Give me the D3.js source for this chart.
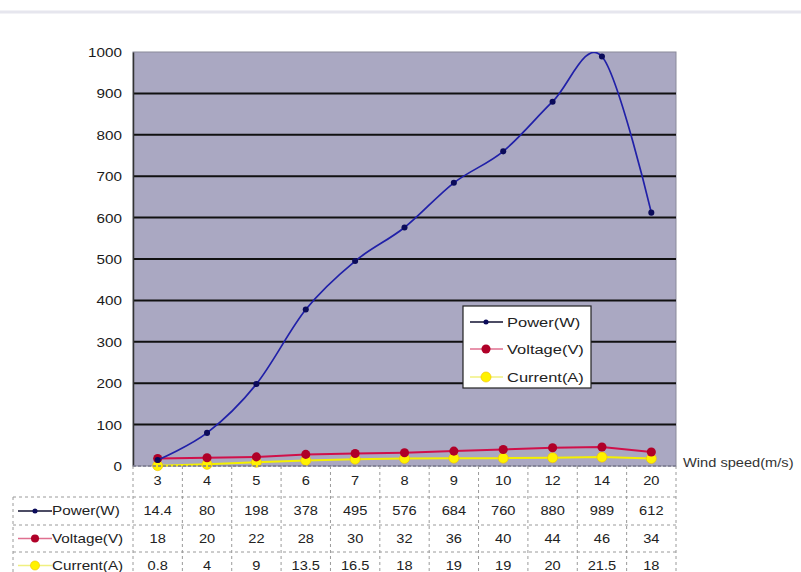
<!DOCTYPE html>
<html>
<head>
<meta charset="utf-8">
<script src="https://cdn.jsdelivr.net/npm/d3@7"></script>
<style>
  html, body { margin: 0; padding: 0; background: #ffffff; }
  svg { display: block; font-family: "Liberation Sans", Arial, sans-serif; }
</style>
</head>
<body>
<svg id="chart" width="801" height="572"></svg>
<script>
// Wind turbine output by wind speed
const windSpeeds = ["3", "4", "5", "6", "7", "8", "9", "10", "12", "14", "20"];
const powerW   = [14.4, 80, 198, 378, 495, 576, 684, 760, 880, 989, 612];
const voltageV = [18, 20, 22, 28, 30, 32, 36, 40, 44, 46, 34];
const currentA = [0.8, 4, 9, 13.5, 16.5, 18, 19, 19, 20, 21.5, 18];
const yTicks   = [0, 100, 200, 300, 400, 500, 600, 700, 800, 900, 1000];

const seriesList = [
  { name: "Power(W)",   values: powerW,   line: "#2020a8", marker: "#0b0b5a", legendLine: "#101030", shape: "dot",    size: 6, curve: d3.curveCatmullRom.alpha(0) },
  { name: "Voltage(V)", values: voltageV, line: "#d0104a", marker: "#b00028", legendLine: "#e07090", shape: "dot",    size: 9, curve: d3.curveLinear },
  { name: "Current(A)", values: currentA, line: "#f4f000", marker: "#fff200", legendLine: "#f0f080", shape: "circle", size: 10, curve: d3.curveLinear }
];

const svg = d3.select("#chart");
const plot = { left: 133, right: 676, top: 52, bottom: 466 };
const stretch = 1.22;   // wide rendering of the labels

const x = d3.scaleBand().domain(windSpeeds).range([plot.left, plot.right]);
const y = d3.scaleLinear().domain([0, 1000]).range([plot.bottom, plot.top]);
const cx = d => x(d) + x.bandwidth() / 2;

function label(g, txt, px, py, size, anchor, fill) {
  return g.append("text")
    .attr("transform", `translate(${px},${py}) scale(${stretch},1)`)
    .attr("text-anchor", anchor)
    .attr("font-size", size)
    .attr("fill", fill || "#222")
    .text(txt);
}

// faint scan line along the top
svg.append("line").attr("x1", 0).attr("x2", 801).attr("y1", 12).attr("y2", 12)
  .attr("stroke", "#e6e6ee").attr("stroke-width", 3);

// plot area
svg.append("rect")
  .attr("x", plot.left).attr("y", plot.top)
  .attr("width", plot.right - plot.left).attr("height", plot.bottom - plot.top)
  .attr("fill", "#aaa8c2").attr("stroke", "#8a8a9a").attr("stroke-width", 1);

// horizontal gridlines
svg.append("g").selectAll("line")
  .data(yTicks.filter(t => t > 0 && t < 1000))
  .join("line")
  .attr("x1", plot.left).attr("x2", plot.right)
  .attr("y1", d => y(d)).attr("y2", d => y(d))
  .attr("stroke", "#111").attr("stroke-width", 2);

// y axis
const yAxis = d3.axisLeft(y).tickValues(yTicks).tickSize(0).tickPadding(0);
const yg = svg.append("g").attr("transform", `translate(${plot.left},0)`).call(yAxis);
yg.select(".domain").attr("stroke", "#333").attr("stroke-width", 1.5);
yg.selectAll(".tick text").remove();
yg.selectAll(".tick").each(function (d) {
  label(d3.select(this), d, -11, 4.5, 12.5, "end", "#1a1a1a");
});

// series
svg.append("clipPath").attr("id", "plotclip")
  .append("rect").attr("x", plot.left).attr("y", plot.top)
  .attr("width", plot.right - plot.left).attr("height", plot.bottom - plot.top + 10);

function drawMarker(g, shape, size, fill, px, py) {
  const p = g.append("path").attr("d", d3.symbol(d3.symbolCircle, size * size * 0.8)())
    .attr("transform", `translate(${px},${py})`).attr("fill", fill);
  if (shape === "circle") p.attr("stroke", "#f0c000").attr("stroke-width", 0.6);
}

// draw current first, power last (on top)
[2, 1, 0].forEach(i => {
  const s = seriesList[i];
  const g = svg.append("g").attr("clip-path", "url(#plotclip)");
  const line = d3.line().x((v, j) => cx(windSpeeds[j])).y(v => y(v)).curve(s.curve);
  g.append("path").attr("d", line(s.values))
    .attr("fill", "none").attr("stroke", s.line).attr("stroke-width", i === 0 ? 1.7 : 2);
  s.values.forEach((v, j) => drawMarker(g, s.shape, s.size, s.marker, cx(windSpeeds[j]), y(v)));
});

// x axis dotted baseline
svg.append("line").attr("x1", plot.left).attr("x2", plot.right)
  .attr("y1", plot.bottom).attr("y2", plot.bottom)
  .attr("stroke", "#7a7a90").attr("stroke-width", 1.5).attr("stroke-dasharray", "3,2");

svg.append("g").call(g => label(g, "Wind speed(m/s)", 683, plot.bottom + 1, 12, "start", "#333"));

// data table
const table = svg.append("g");
const dash = "3,3";
const rowTop = plot.bottom, rowEdges = [497, 525, 552, 579];
const tableLeft = 13;
const cols = windSpeeds.map(w => x(w)).concat([plot.right]);

// vertical lines
cols.forEach(cxv => table.append("line")
  .attr("x1", cxv).attr("x2", cxv).attr("y1", rowTop).attr("y2", 572)
  .attr("stroke", "#9a9a9a").attr("stroke-dasharray", dash));
table.append("line").attr("x1", tableLeft).attr("x2", tableLeft).attr("y1", rowEdges[0]).attr("y2", 572)
  .attr("stroke", "#9a9a9a").attr("stroke-dasharray", dash);
// horizontal lines
rowEdges.slice(0, 3).forEach(ry => table.append("line")
  .attr("x1", tableLeft).attr("x2", plot.right).attr("y1", ry).attr("y2", ry)
  .attr("stroke", "#9a9a9a").attr("stroke-dasharray", dash));

// category labels
windSpeeds.forEach(w => label(table, w, cx(w), 485, 12, "middle", "#222"));

// series rows
seriesList.forEach((s, i) => {
  const ry = (rowEdges[i] + rowEdges[i + 1]) / 2 + 4;
  s.values.forEach((v, j) => label(table, v, cx(windSpeeds[j]), ry, 12, "middle", "#222"));
  // key
  table.append("line").attr("x1", 18).attr("x2", 52).attr("y1", ry - 4).attr("y2", ry - 4)
    .attr("stroke", s.legendLine).attr("stroke-width", 1.5);
  drawMarker(table, s.shape, s.size - 1, s.marker, 35, ry - 4);
  label(table, s.name, 52, ry, 12.5, "start", "#222");
});

// legend
const legend = svg.append("g");
legend.append("rect").attr("x", 463).attr("y", 306).attr("width", 128).attr("height", 82)
  .attr("fill", "#ffffff").attr("stroke", "#222").attr("stroke-width", 1.2);
const legendRows = [322, 349, 377];
seriesList.forEach((s, i) => {
  const ly = legendRows[i];
  legend.append("line").attr("x1", 470).attr("x2", 503).attr("y1", ly).attr("y2", ly)
    .attr("stroke", s.legendLine).attr("stroke-width", 1.5);
  drawMarker(legend, s.shape, s.size - (i === 0 ? 1 : 0), s.marker, 486, ly);
  label(legend, s.name, 507, ly + 5, 13.5, "start", "#222");
});
</script>
</body>
</html>
